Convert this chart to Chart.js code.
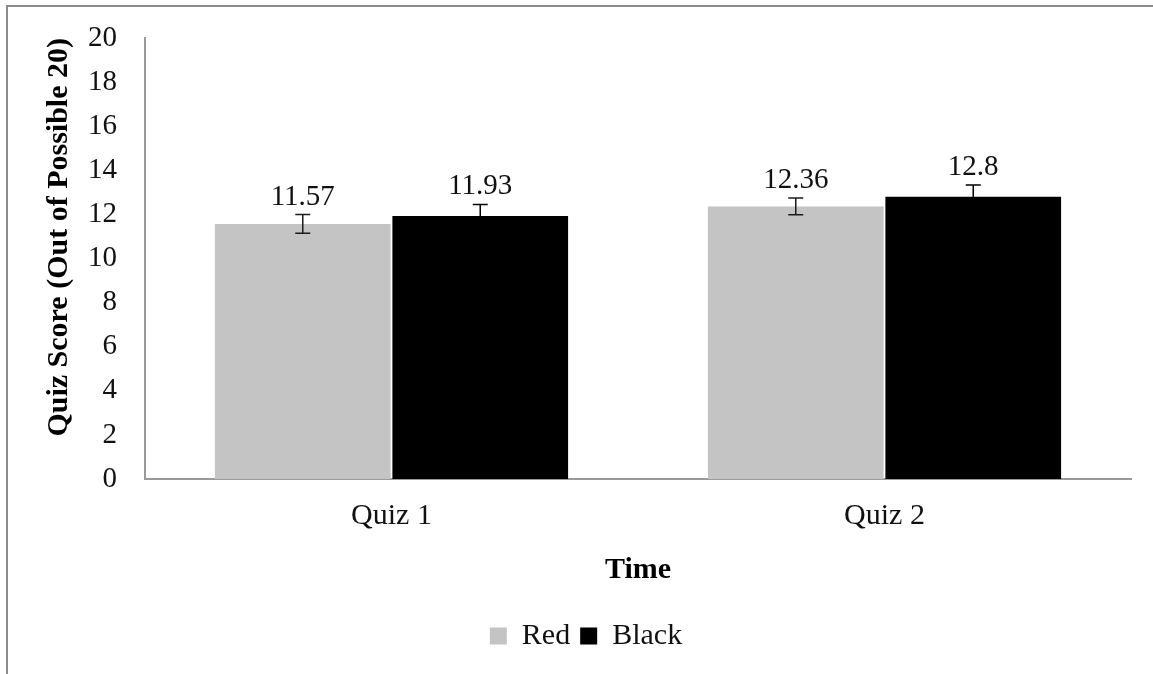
<!DOCTYPE html>
<html>
<head>
<meta charset="utf-8">
<script src="https://cdn.jsdelivr.net/npm/chart.js@4.4.1/dist/chart.umd.min.js"></script>
<style>
  html, body { margin: 0; padding: 0; background: #fff; }
  #wrap { position: relative; width: 1153px; height: 674px; }
  #frame { position: absolute; left: 6px; top: 5px; right: 0; bottom: 0;
           border-top: 2px solid #8c8c8c; border-left: 2px solid #8c8c8c; pointer-events: none; }
  canvas { position: absolute; left: 0; top: 0; }
</style>
</head>
<body>
<div id="wrap">
  <canvas id="c" width="1153" height="674"></canvas>
  <div id="frame"></div>
</div>
<script>
const categories = ['Quiz 1', 'Quiz 2'];
const seriesNames = ['Red', 'Black'];
const redValues = [11.57, 12.36];
const blackValues = [11.93, 12.8];
const redErrors = [0.42, 0.38];
const blackErrors = [0.52, 0.53];
const yTitle = 'Quiz Score (Out of Possible 20)';
const xTitle = 'Time';

const FONT = "'Liberation Serif', 'Times New Roman', serif";

const errorBarPlugin = {
  id: 'errorBars',
  afterDatasetsDraw(chart) {
    const ctx = chart.ctx;
    const yScale = chart.scales.y;
    chart.data.datasets.forEach((ds, di) => {
      const meta = chart.getDatasetMeta(di);
      meta.data.forEach((bar, i) => {
        const v = ds.data[i];
        const e = ds.errors[i];
        const yTop = yScale.getPixelForValue(v + e);
        const yBot = yScale.getPixelForValue(v - e);
        const x = bar.x;
        ctx.save();
        ctx.strokeStyle = di === 1 ? '#000' : '#1a1a1a';
        ctx.lineWidth = 1.5;
        ctx.beginPath();
        ctx.moveTo(x, yTop); ctx.lineTo(x, yBot);
        ctx.moveTo(x - 7.5, yTop); ctx.lineTo(x + 7.5, yTop);
        ctx.moveTo(x - 7.5, yBot); ctx.lineTo(x + 7.5, yBot);
        ctx.stroke();
        ctx.fillStyle = '#111';
        ctx.font = '29px ' + FONT;
        ctx.textAlign = 'center';
        ctx.textBaseline = 'alphabetic';
        ctx.fillText(String(v), x, yTop - 10);
        ctx.restore();
      });
    });
  }
};

new Chart(document.getElementById('c'), {
  type: 'bar',
  data: {
    labels: categories,
    datasets: [
      { label: seriesNames[0], data: redValues, errors: redErrors, backgroundColor: '#c4c4c4', borderWidth: 0 },
      { label: seriesNames[1], data: blackValues, errors: blackErrors, backgroundColor: '#000000', borderWidth: 0 }
    ]
  },
  options: {
    responsive: false,
    animation: false,
    devicePixelRatio: 1,
    layout: { padding: { left: 41, top: 38, right: 22, bottom: 13 } },
    datasets: { bar: { categoryPercentage: 0.72, barPercentage: 0.99 } },
    plugins: {
      legend: {
        position: 'bottom',
        labels: {
          color: '#111',
          font: { family: FONT, size: 30 },
          boxWidth: 17, boxHeight: 17, padding: 10
        }
      },
      tooltip: { enabled: false }
    },
    scales: {
      x: {
        grid: { display: false, drawTicks: false },
        border: { display: true, color: '#9a9a9a', width: 2 },
        ticks: { color: '#111', font: { family: FONT, size: 30 }, padding: 19 },
        title: { display: true, text: xTitle, color: '#000',
                 font: { family: FONT, size: 30, weight: 'bold' }, padding: { top: 0, bottom: 23 } },
        afterFit(scale) { scale.height = 132; }
      },
      y: {
        min: 0, max: 20,
        grid: { display: false, drawTicks: false },
        border: { display: true, color: '#9a9a9a', width: 2 },
        ticks: { stepSize: 2, color: '#111', font: { family: FONT, size: 29 }, padding: 28 },
        title: { display: true, text: yTitle, color: '#000', align: 'end',
                 font: { family: FONT, size: 30, weight: 'bold' }, padding: { top: 0, bottom: 0 } },
        afterFit(scale) { scale.width = 104; scale.paddingTop = 0; scale.paddingBottom = 0; }
      }
    }
  },
  plugins: [errorBarPlugin]
});
</script>
</body>
</html>
